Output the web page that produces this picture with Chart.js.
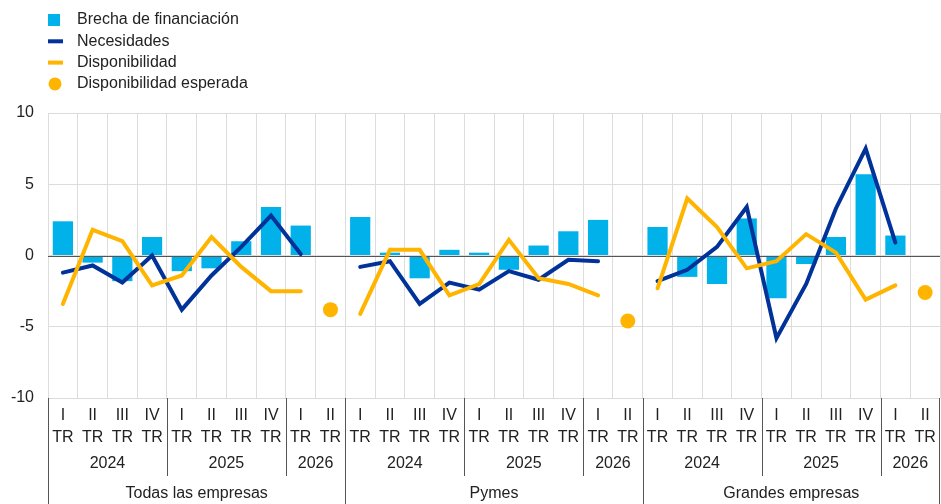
<!DOCTYPE html>
<html>
<head>
<meta charset="utf-8">
<script src="https://cdn.jsdelivr.net/npm/chart.js@4.4.1/dist/chart.umd.min.js"></script>
<style>
  body { margin: 0; background: #fff; }
  #wrap { width: 941px; height: 504px; }
</style>
</head>
<body>
<div id="wrap"><canvas id="c" width="941" height="504"></canvas></div>
<script>
// Three panels, ten quarters each (2024 I..IV, 2025 I..IV, 2026 I..II)
const groups = ['Todas las empresas', 'Pymes', 'Grandes empresas'];
const quarters = ['I', 'II', 'III', 'IV', 'I', 'II', 'III', 'IV', 'I', 'II'];
const years = ['2024', '2024', '2024', '2024', '2025', '2025', '2025', '2025', '2026', '2026'];
const yTicks = [10, 5, 0, -5, -10];

const brecha = [
  2.4, -0.5, -1.8, 1.3, -1.1, -0.9, 1.0, 3.4, 2.1, null,
  2.7, 0.2, -1.6, 0.4, 0.2, -1.0, 0.7, 1.7, 2.5, null,
  2.0, -1.5, -2.0, 2.6, -3.0, -0.6, 1.3, 5.7, 1.4, null,
];
const necesidades = [
  -1.2, -0.7, -1.9, 0.0, -3.8, -1.4, 0.6, 2.8, 0.1, null,
  -0.8, -0.4, -3.4, -1.9, -2.4, -1.1, -1.7, -0.3, -0.4, null,
  -1.8, -1.0, 0.6, 3.4, -5.8, -2.0, 3.3, 7.5, 0.9, null,
];
const disponibilidad = [
  -3.4, 1.8, 1.0, -2.1, -1.4, 1.3, -0.8, -2.5, -2.5, null,
  -4.1, 0.4, 0.4, -2.8, -2.0, 1.1, -1.6, -2.0, -2.8, null,
  -2.3, 4.0, 2.0, -0.9, -0.4, 1.5, 0.2, -3.1, -2.1, null,
];
const esperada = [
  null, null, null, null, null, null, null, null, null, -3.8,
  null, null, null, null, null, null, null, null, null, -4.6,
  null, null, null, null, null, null, null, null, null, -2.6,
];

const FONT = '"Liberation Sans", Arial, sans-serif';
const TEXT = '#222';
const C_BAR = '#00b1ea', C_BLUE = '#003299', C_ORANGE = '#ffb400';

const labels = [];
groups.forEach(g => quarters.forEach((q, i) => labels.push(q + ' TR ' + years[i] + ' ' + g)));

// zero line sits on top of the bars, under the lines
const zeroLine = {
  id: 'zero-line',
  afterDatasetDraw(chart, args) {
    if (args.index !== 0) return;
    const { ctx, chartArea, scales } = chart;
    const y = Math.round(scales.y.getPixelForValue(0)) + 0.5;
    ctx.save();
    ctx.strokeStyle = '#555';
    ctx.lineWidth = 1;
    ctx.beginPath();
    ctx.moveTo(chartArea.left, y);
    ctx.lineTo(chartArea.right, y);
    ctx.stroke();
    ctx.restore();
  },
};

// multi-level category axis: quarter / TR / year / panel
const multiAxis = {
  id: 'multi-axis',
  afterDraw(chart) {
    const { ctx, chartArea, scales } = chart;
    const x = scales.x;
    const n = labels.length;
    const step = (chartArea.right - chartArea.left) / n;
    const edge = i => chartArea.left + i * step;
    const bottom = chartArea.bottom;
    ctx.save();
    ctx.fillStyle = TEXT;
    ctx.textAlign = 'center';
    ctx.textBaseline = 'middle';
    ctx.font = '16px ' + FONT;
    for (let i = 0; i < n; i++) {
      const cx = x.getPixelForValue(i);
      ctx.fillText(quarters[i % 10], cx, bottom + 18);
      ctx.fillText('TR', cx, bottom + 40);
    }
    // year labels and separators
    const yearSpans = [[0, 4], [4, 8], [8, 10]];
    ctx.strokeStyle = '#555';
    ctx.lineWidth = 1;
    groups.forEach((g, gi) => {
      yearSpans.forEach(([a, b]) => {
        const l = edge(gi * 10 + a), r = edge(gi * 10 + b);
        ctx.fillText(years[a], (l + r) / 2, bottom + 66);
        if (a > 0) {
          const px = Math.round(l) + 0.5;
          ctx.beginPath();
          ctx.moveTo(px, bottom);
          ctx.lineTo(px, bottom + 78);
          ctx.stroke();
        }
      });
      const gl = edge(gi * 10), gr = edge(gi * 10 + 10);
      ctx.fillText(g, (gl + gr) / 2, bottom + 96);
      const px = Math.round(gl) + 0.5;
      ctx.beginPath();
      ctx.moveTo(px, bottom);
      ctx.lineTo(px, chart.height);
      ctx.stroke();
    });
    const pr = Math.round(chartArea.right) - 0.5;
    ctx.beginPath();
    ctx.moveTo(pr, bottom);
    ctx.lineTo(pr, chart.height);
    ctx.stroke();
    ctx.restore();
  },
};

// vertical legend in the top-left corner
const legendBox = {
  id: 'legend-box',
  afterDraw(chart) {
    const ctx = chart.ctx;
    const items = [
      { text: 'Brecha de financiación', kind: 'box', color: C_BAR },
      { text: 'Necesidades', kind: 'line', color: C_BLUE },
      { text: 'Disponibilidad', kind: 'line', color: C_ORANGE },
      { text: 'Disponibilidad esperada', kind: 'dot', color: C_ORANGE },
    ];
    ctx.save();
    ctx.font = '16px ' + FONT;
    ctx.textBaseline = 'middle';
    ctx.textAlign = 'left';
    items.forEach((it, i) => {
      const cy = 20 + i * 21.3;
      ctx.fillStyle = it.color;
      if (it.kind === 'box') ctx.fillRect(48, cy - 6, 12, 12);
      else if (it.kind === 'line') ctx.fillRect(48, cy - 2, 15, 4);
      else { ctx.beginPath(); ctx.arc(55, cy, 6.5, 0, Math.PI * 2); ctx.fill(); }
      ctx.fillStyle = TEXT;
      ctx.fillText(it.text, 77, cy);
    });
    ctx.restore();
  },
};

new Chart(document.getElementById('c'), {
  type: 'bar',
  data: {
    labels,
    datasets: [
      {
        label: 'Brecha de financiación',
        data: brecha,
        backgroundColor: C_BAR,
        categoryPercentage: 1,
        barPercentage: 0.68,
        order: 4,
      },
      {
        type: 'line',
        label: 'Necesidades',
        data: necesidades,
        borderColor: C_BLUE,
        borderWidth: 4,
        pointRadius: 0,
        tension: 0,
        spanGaps: false,
        borderCapStyle: 'round',
        order: 3,
      },
      {
        type: 'line',
        label: 'Disponibilidad',
        data: disponibilidad,
        borderColor: C_ORANGE,
        borderWidth: 4,
        pointRadius: 0,
        tension: 0,
        spanGaps: false,
        borderCapStyle: 'round',
        order: 2,
      },
      {
        type: 'line',
        label: 'Disponibilidad esperada',
        data: esperada,
        showLine: false,
        pointRadius: 7.5,
        pointBackgroundColor: C_ORANGE,
        pointBorderWidth: 0,
        order: 1,
      },
    ],
  },
  options: {
    responsive: false,
    animation: false,
    layout: { autoPadding: false, padding: { top: 113, right: 1, left: 0, bottom: 0 } },
    scales: {
      x: {
        offset: true,
        ticks: { display: false },
        grid: { color: '#dcdcdc', offset: true, drawTicks: false },
        border: { display: false },
        afterFit(scale) { scale.height = 106; },
      },
      y: {
        min: -10,
        max: 10,
        afterBuildTicks(scale) { scale.ticks = yTicks.map(v => ({ value: v })); },
        ticks: { color: TEXT, font: { size: 16, family: FONT }, padding: 14 },
        grid: { color: '#dcdcdc', drawTicks: false },
        border: { display: false },
        afterFit(scale) { scale.width = 48; },
      },
    },
    plugins: {
      legend: { display: false },
      tooltip: { enabled: false },
    },
  },
  plugins: [zeroLine, multiAxis, legendBox],
});
</script>
</body>
</html>
